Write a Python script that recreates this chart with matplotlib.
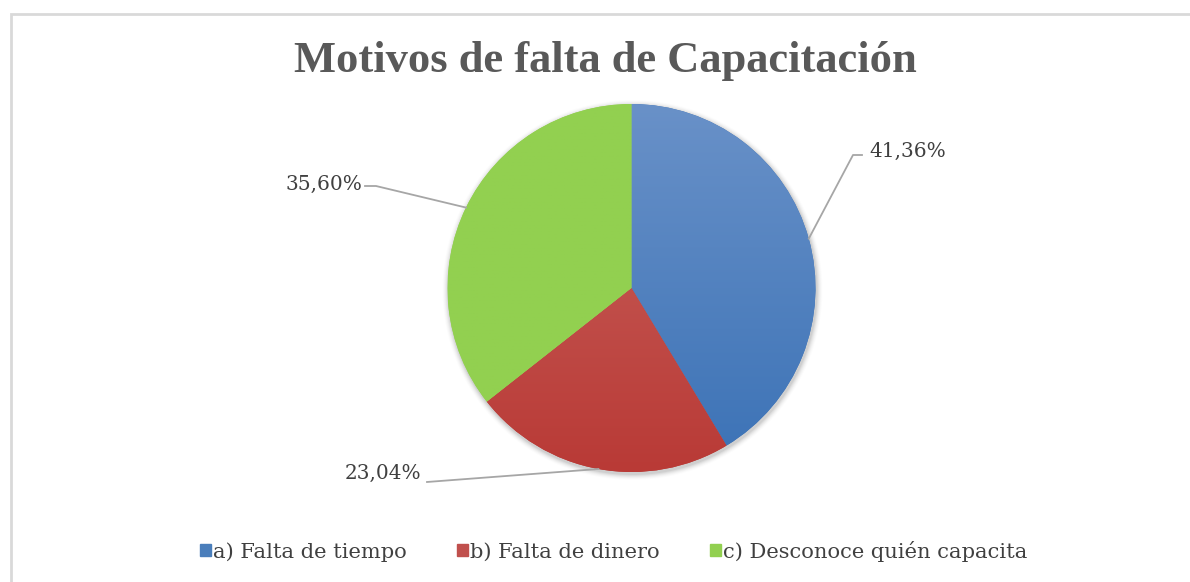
import numpy as np
import matplotlib
matplotlib.use("Agg")
import matplotlib.pyplot as plt
from matplotlib.patches import Rectangle, Circle
from matplotlib.colors import LinearSegmentedColormap

# ---- data ----
categories = ["a) Falta de tiempo", "b) Falta de dinero", "c) Desconoce quién capacita"]
values = [41.36, 23.04, 35.60]
labels = ["41,36%", "23,04%", "35,60%"]
title = "Motivos de falta de Capacitación"

# ---- style ----
top_colors = ["#6991c8", "#c9645f", "#92d050"]
bot_colors = ["#3b72b6", "#b93a36", "#92d050"]
legend_colors = ["#4a7ebb", "#c0504d", "#92d050"]
W, H = 1190, 582

fig = plt.figure(figsize=(W / 100, H / 100), dpi=100)
ax = fig.add_axes([0, 0, 1, 1])
ax.set_xlim(0, W)
ax.set_ylim(0, H)
ax.set_aspect("equal")
ax.axis("off")

def py(y):
    return H - y

# frame
ax.plot([11, 11, W + 5], [py(H + 5), py(13.5), py(13.5)], color="#d9d9d9", lw=2, solid_joinstyle="miter")

cx, cy, r = 631.5, py(288), 184

# soft shadow
for i, a in enumerate(np.linspace(0.05, 0.01, 6)):
    ax.add_patch(Circle((cx + 1, cy - 2), r + 1 + i, color="black", alpha=a, lw=0, zorder=1))

wedges, _ = ax.pie(values, center=(cx, cy), radius=r, startangle=90, counterclock=False,
                   wedgeprops=dict(linewidth=0, zorder=2), frame=True)
ax.set_xlim(0, W)
ax.set_ylim(0, H)
ax.axis("off")

for w, c0, c1 in zip(wedges, top_colors, bot_colors):
    w.set_facecolor(c1)
    cmap = LinearSegmentedColormap.from_list("g", [c0, c1])
    grad = np.linspace(0, 1, 256).reshape(-1, 1)
    im = ax.imshow(grad, cmap=cmap, extent=(cx - r, cx + r, cy - r, cy + r), origin="upper",
                   aspect="auto", zorder=3)
    im.set_clip_path(w)

# data labels with leader lines
lab_font = dict(family="DejaVu Serif", size=14.5, color="#404040")
line_kw = dict(color="#a6a6a6", lw=1.3, zorder=4)
cum = np.cumsum([0] + values)
mids = [90 - 360 * (cum[i] + values[i] / 2) / 100 for i in range(3)]
# elbow points and text anchors (layout, pixel coords)
elbows = [[(853, 155), (862, 155)], [(440, 481), (427, 482)], [(376, 186), (365, 186)]]
text_pos = [((869, 151), "left"), ((421, 473), "right"), ((362, 184), "right")]
for m, el, (tp, ha), lab in zip(mids, elbows, text_pos, labels):
    ex = cx + r * np.cos(np.radians(m))
    ey = cy + r * np.sin(np.radians(m))
    xs = [ex] + [p[0] for p in el]
    ys = [ey] + [py(p[1]) for p in el]
    ax.plot(xs, ys, **line_kw)
    ax.text(tp[0], py(tp[1]), lab, ha=ha, va="center", **lab_font)

# title
fig.text(605 / W, 1 - 61 / H, title, ha="center", va="center",
         family="Liberation Serif", weight="bold", size=32, color="#595959")

# legend
handles = [Rectangle((0, 0), 1, 1, color=c) for c in legend_colors]
leg = ax.legend(handles, categories, ncol=3, loc="center", bbox_to_anchor=(614 / W, 1 - 551 / H),
                bbox_transform=fig.transFigure, frameon=False,
                prop=dict(family="DejaVu Serif", size=15.1),
                handlelength=0.5, handleheight=0.5, handletextpad=0.12, columnspacing=2.4)
for t in leg.get_texts():
    t.set_color("#404040")

fig.savefig("out.png", dpi=100, facecolor="white")
